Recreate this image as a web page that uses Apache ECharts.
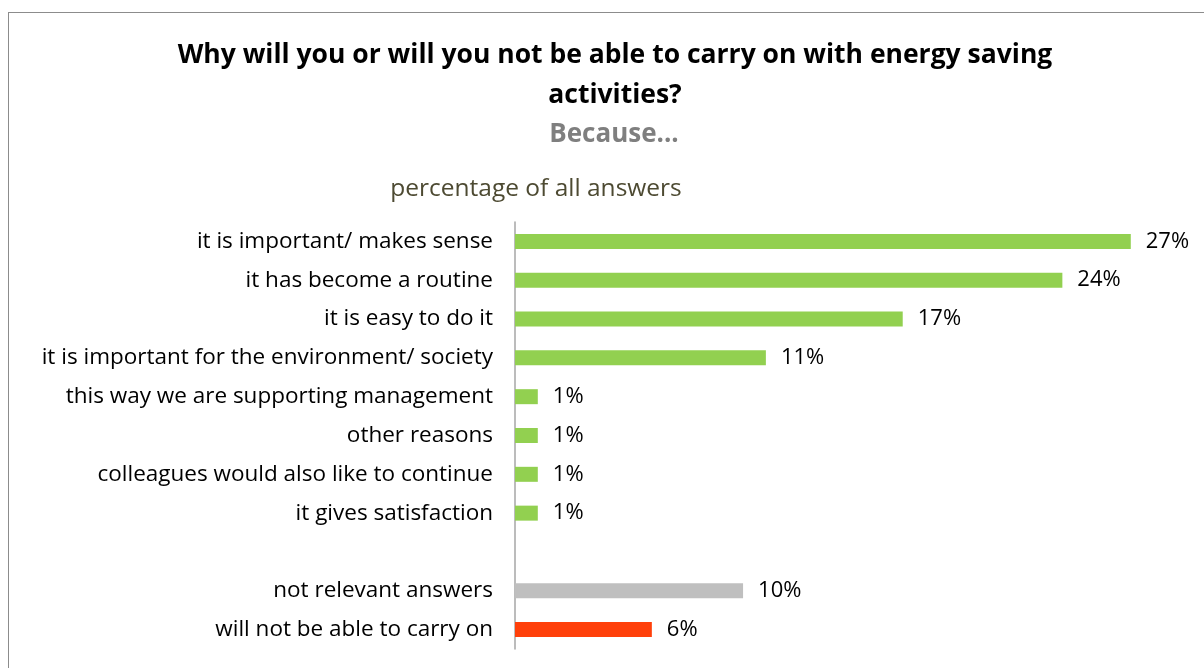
<!DOCTYPE html>
<html>
<head>
<meta charset="utf-8">
<script src="https://cdn.jsdelivr.net/npm/echarts@6/dist/echarts.min.js"></script>
<style>
  html, body { margin: 0; padding: 0; background: #ffffff; }
  #frame { position: absolute; left: 8px; top: 12px; width: 1300px; height: 800px;
           border: 1.5px solid #8c8c8c; box-sizing: border-box; }
  #chart { position: absolute; left: 0; top: 0; width: 1204px; height: 668px; }
</style>
</head>
<body>
<div id="frame"></div>
<div id="chart"></div>
<script>
// Answer categories, top to bottom (the blank entry is a spacer row)
const categories = [
  'it is important/ makes sense',
  'it has become a routine',
  'it is easy to do it',
  'it is important for the environment/ society',
  'this way we are supporting management',
  'other reasons',
  'colleagues would also like to continue',
  'it gives satisfaction',
  '',
  'not relevant answers',
  'will not be able to carry on'
];

// Share of all answers, in percent
const shares = [27, 24, 17, 11, 1, 1, 1, 1, null, 10, 6];

// Bar colour group per row: reasons, irrelevant, negative
const groups = ['reason', 'reason', 'reason', 'reason', 'reason', 'reason', 'reason', 'reason', '', 'irrelevant', 'negative'];

const groupColors = { reason: '#92D050', irrelevant: '#BFBFBF', negative: '#FF400A', '': '#ffffff' };

const FONT = '"Open Sans", "Noto Sans", sans-serif';

const chart = echarts.init(document.getElementById('chart'));

chart.setOption({
  animation: false,
  backgroundColor: 'transparent',
  title: [
    {
      text: 'Why will you or will you not be able to carry on with energy saving\nactivities?',
      left: 610, top: 30, textAlign: 'center',
      textStyle: { fontFamily: FONT, fontWeight: 'bold', fontSize: 26.5, lineHeight: 40, color: '#000000' }
    },
    {
      text: 'Because...',
      left: 609, top: 117, textAlign: 'center',
      textStyle: { fontFamily: FONT, fontWeight: 'bold', fontSize: 26, color: '#7f7f7f' }
    },
    {
      text: 'percentage of all answers',
      left: 531, top: 172, textAlign: 'center',
      textStyle: { fontFamily: FONT, fontWeight: 'normal', fontSize: 24.5, color: '#4d4a32' }
    }
  ],
  grid: { left: 515, right: 39, top: 222, bottom: 19, containLabel: false },
  xAxis: {
    type: 'value', min: 0, max: 28.5, show: false
  },
  yAxis: {
    type: 'category',
    inverse: true,
    data: categories,
    axisLine: { show: true, lineStyle: { color: '#a6a6a6', width: 1.5 } },
    axisTick: { show: false },
    splitLine: { show: false },
    axisLabel: { fontFamily: FONT, fontSize: 22.5, color: '#000000', margin: 22 }
  },
  series: [{
    type: 'bar',
    barWidth: 15,
    data: shares.map((v, i) => ({ value: v, itemStyle: { color: groupColors[groups[i]] } })),
    label: {
      show: true,
      position: 'right',
      distance: 15,
      fontFamily: FONT,
      fontSize: 22,
      color: '#000000',
      formatter: p => (p.value == null ? '' : p.value + '%')
    }
  }]
});
</script>
</body>
</html>
